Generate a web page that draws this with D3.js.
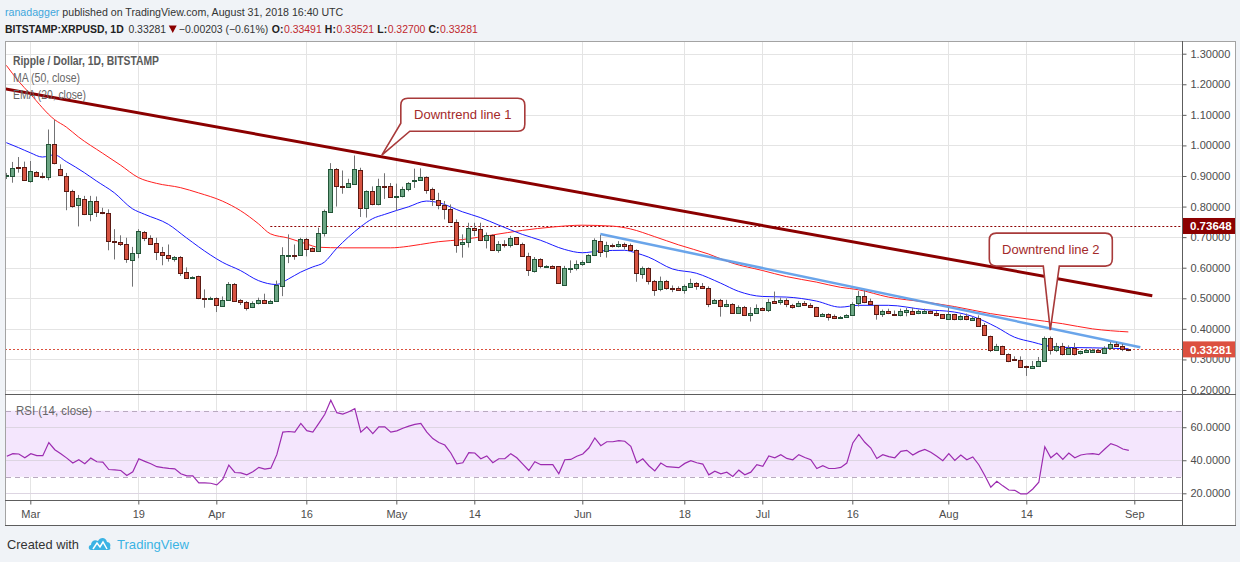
<!DOCTYPE html>
<html>
<head>
<meta charset="utf-8">
<script src="https://cdn.jsdelivr.net/npm/d3@7"></script>
<style>
html, body { margin: 0; padding: 0; background: #f0f3f7; overflow: hidden; }
text { font-family: "Liberation Sans", Arial, sans-serif; }
</style>
</head>
<body>
<script>
// daily candles, one value per day starting at firstDay
var firstDay = "2018-02-25";

var opens = [
  .900,.898,.929,.928,
  .883,.912,.899,.896,1.004,.923,.899,.852,.804,.824,.775,.817,.781,.778,.687,.683,.676,.624,.647,.718,.698,.680,.651,.641,.627,.634,.586,.567,.572,.500,.498,
  .502,.477,.495,.547,.493,.489,.471,.484,.495,.484,.491,.540,.641,.642,.642,.695,.665,.654,.713,.783,.924,.867,.864,.875,.920,.796,.850,.806,.868,.868,
  .833,.835,.857,.882,.886,.897,.856,.820,.804,.791,.750,.676,.684,.729,.726,.690,.706,.657,.676,.673,.699,.677,.637,.587,.627,.604,.607,.604,.544,.598,.597,
  .611,.618,.640,.687,.652,.673,.670,.677,.673,.657,.582,.600,.558,.530,.557,.535,.534,.528,.538,.551,.540,.534,.484,.493,.475,.482,.452,.473,.445,.453,
  .469,.462,.490,.486,.493,.479,.474,.485,.479,.471,.443,.449,.441,.436,.438,.446,.482,.506,.491,.477,.447,.457,.450,.445,.458,.460,.450,.455,.457,.452,.447,
  .430,.447,.430,.441,.430,.437,.411,.378,.333,.345,.319,.300,.297,.277,.273,.278,.294,.370,.330,.343,.317,.337,.319,.324,.326,.332,.323,.338,.351,.345,.33491
];
var highs = [
  .910,.946,.962,.947,
  .949,.916,.911,1.052,1.084,.938,.910,.855,.838,.835,.835,.833,.796,.791,.726,.706,.698,.668,.726,.720,.706,.698,.668,.676,.638,.638,.601,.572,.574,.529,.505,
  .503,.506,.553,.550,.497,.491,.490,.502,.515,.495,.558,.667,.709,.676,.698,.698,.667,.731,.790,.942,.926,.918,.891,.967,.927,.853,.866,.891,.909,.877,
  .875,.865,.880,.924,.925,.899,.862,.845,.818,.807,.758,.709,.747,.747,.747,.715,.709,.687,.690,.704,.700,.682,.649,.635,.631,.608,.608,.605,.606,.624,.624,
  .624,.644,.696,.707,.685,.679,.687,.682,.679,.660,.604,.601,.560,.571,.560,.542,.539,.545,.564,.553,.550,.539,.498,.498,.495,.484,.477,.475,.471,.480,
  .471,.498,.522,.502,.500,.482,.491,.491,.484,.472,.452,.451,.447,.442,.448,.487,.524,.526,.499,.478,.463,.466,.460,.466,.469,.469,.463,.466,.460,.458,.448,
  .469,.449,.447,.450,.439,.444,.419,.378,.351,.345,.320,.310,.310,.280,.295,.308,.375,.375,.354,.354,.346,.354,.329,.335,.335,.335,.343,.357,.357,.351,.33521
];
var lows = [
  .890,.878,.911,.884,
  .878,.897,.892,.886,.938,.900,.788,.796,.735,.772,.752,.766,.775,.657,.627,.671,.616,.538,.631,.687,.676,.625,.608,.620,.620,.573,.565,.565,.497,.469,.495,
  .455,.473,.493,.490,.478,.460,.468,.480,.482,.482,.491,.507,.615,.626,.640,.637,.652,.652,.702,.781,.800,.842,.862,.873,.766,.764,.804,.804,.825,.830,
  .787,.830,.850,.861,.884,.842,.802,.791,.758,.747,.649,.633,.666,.704,.687,.663,.655,.649,.666,.666,.674,.635,.573,.584,.598,.601,.600,.548,.543,.583,.591,
  .606,.617,.638,.635,.633,.666,.666,.660,.655,.554,.564,.545,.508,.523,.528,.520,.526,.515,.536,.528,.531,.471,.482,.440,.471,.449,.449,.444,.424,.449,
  .460,.455,.482,.479,.471,.466,.471,.476,.469,.440,.440,.427,.432,.433,.436,.444,.473,.484,.478,.430,.439,.448,.444,.441,.441,.448,.448,.453,.450,.441,.433,
  .429,.428,.428,.428,.428,.410,.378,.324,.331,.316,.291,.295,.272,.246,.272,.278,.294,.316,.324,.313,.317,.313,.316,.321,.324,.321,.322,.336,.341,.327,.32700
];
var closes = [
  .902,.925,.926,.885,
  .915,.899,.897,1.004,.941,.902,.850,.804,.827,.775,.817,.780,.778,.686,.685,.676,.627,.647,.719,.697,.680,.650,.641,.631,.634,.582,.568,.570,.499,.498,.501,
  .480,.495,.547,.491,.488,.471,.485,.495,.484,.491,.542,.640,.643,.638,.695,.662,.654,.713,.784,.924,.867,.864,.877,.924,.796,.850,.806,.866,.865,.833,
  .836,.858,.877,.886,.897,.856,.824,.804,.790,.750,.676,.684,.729,.724,.690,.706,.657,.676,.673,.696,.676,.637,.591,.627,.603,.607,.601,.549,.599,.600,.611,
  .619,.640,.690,.652,.673,.671,.677,.669,.657,.582,.600,.558,.530,.557,.533,.534,.528,.540,.551,.540,.534,.482,.493,.474,.482,.452,.473,.446,.452,.468,
  .462,.489,.485,.493,.479,.474,.485,.479,.471,.443,.449,.438,.436,.440,.446,.482,.506,.487,.480,.447,.457,.450,.446,.458,.463,.450,.457,.460,.452,.444,.435,
  .447,.430,.441,.430,.437,.411,.379,.333,.345,.319,.297,.297,.275,.275,.280,.294,.370,.330,.343,.317,.337,.319,.327,.332,.332,.324,.338,.351,.344,.334,.33281
];
var rsi = [
  42.4,44.0,43.8,41.5,
  44.0,42.8,42.8,50.7,46.4,44.0,41.3,38.3,40.3,37.9,41.3,39.1,38.9,34.4,34.2,33.8,30.8,33.0,40.9,39.3,37.9,36.1,35.5,35.1,34.8,31.8,30.6,30.6,26.3,26.3,26.1,
  25.1,28.5,37.1,32.6,32.4,31.2,33.0,35.7,34.6,35.2,43.4,57.0,57.4,57.0,62.3,57.9,57.0,62.3,67.8,76.3,68.8,68.0,69.4,71.2,57.0,60.2,56.1,60.2,60.2,57.0,
  57.8,59.4,60.7,61.7,62.3,57.0,53.1,50.7,49.2,44.4,37.9,38.5,44.6,44.4,40.9,42.6,38.5,40.9,40.9,44.0,41.5,37.7,33.8,39.1,37.3,37.3,37.3,31.8,40.3,40.5,42.4,
  43.8,47.4,53.5,48.8,51.2,51.2,51.9,51.5,48.4,38.5,40.9,36.7,33.6,38.3,36.1,35.9,35.5,38.1,39.7,38.5,37.7,31.2,33.4,31.8,32.8,30.2,34.0,31.2,32.8,37.3,
  36.3,42.6,41.5,43.4,41.1,40.3,43.4,41.7,40.3,35.0,36.7,35.0,35.0,35.7,38.3,50.5,55.6,50.9,47.4,41.1,43.4,42.2,41.5,45.4,46.0,43.2,45.2,46.6,44.8,42.4,39.7,
  44.0,39.9,43.2,40.3,42.0,37.3,30.8,23.7,27.3,24.5,22.0,21.8,19.6,19.6,22.6,26.7,48.2,41.5,44.4,40.5,44.4,41.5,43.2,43.8,44.0,43.4,46.8,50.1,48.8,46.8,46.0
];

// indicator lines
var ma50 = [
  ["2018-02-25",1.262],["2018-02-27",1.211],["2018-03-01",1.168],["2018-03-05",1.085],["2018-03-07",1.060],["2018-03-09",1.028],
  ["2018-03-13",0.975],["2018-03-16",0.936],["2018-03-19",0.895],["2018-03-22",0.876],["2018-03-26",0.862],["2018-03-29",0.845],
  ["2018-04-02",0.818],["2018-04-05",0.787],["2018-04-08",0.744],["2018-04-10",0.711],["2018-04-13",0.697],["2018-04-16",0.678],
  ["2018-04-18",0.667],["2018-04-22",0.665],["2018-04-30",0.665],["2018-05-03",0.670],["2018-05-05",0.676],["2018-05-08",0.685],
  ["2018-05-12",0.692],["2018-05-17",0.707],["2018-05-22",0.722],["2018-05-27",0.733],["2018-06-01",0.739],["2018-06-06",0.736],
  ["2018-06-09",0.727],["2018-06-13",0.702],["2018-06-17",0.675],["2018-06-22",0.645],["2018-06-26",0.615],["2018-07-01",0.591],
  ["2018-07-05",0.571],["2018-07-10",0.553],["2018-07-14",0.536],["2018-07-17",0.528],["2018-07-22",0.504],["2018-07-28",0.488],
  ["2018-08-02",0.473],["2018-08-08",0.450],["2018-08-14",0.433],["2018-08-20",0.417],["2018-08-25",0.400],["2018-08-31",0.390]
];
var ema20 = [
  ["2018-02-25",1.009],["2018-02-27",0.993],["2018-03-01",0.976],["2018-03-03",0.962],["2018-03-05",0.969],["2018-03-07",0.947],
  ["2018-03-10",0.911],["2018-03-12",0.884],["2018-03-15",0.845],["2018-03-18",0.793],["2018-03-20",0.775],["2018-03-24",0.742],
  ["2018-03-27",0.698],["2018-03-31",0.642],["2018-04-02",0.618],["2018-04-05",0.591],["2018-04-08",0.558],["2018-04-11",0.545],
  ["2018-04-13",0.563],["2018-04-15",0.585],["2018-04-17",0.602],["2018-04-19",0.618],["2018-04-21",0.662],["2018-04-23",0.700],
  ["2018-04-25",0.733],["2018-04-27",0.760],["2018-04-29",0.774],["2018-05-01",0.787],["2018-05-03",0.799],["2018-05-06",0.818],
  ["2018-05-08",0.813],["2018-05-12",0.783],["2018-05-15",0.764],["2018-05-18",0.740],["2018-05-22",0.709],["2018-05-25",0.690],
  ["2018-05-29",0.660],["2018-06-01",0.649],["2018-06-04",0.655],["2018-06-08",0.657],["2018-06-10",0.648],["2018-06-12",0.635],
  ["2018-06-16",0.596],["2018-06-20",0.582],["2018-06-24",0.550],["2018-06-27",0.523],["2018-07-01",0.506],["2018-07-05",0.504],
  ["2018-07-10",0.491],["2018-07-14",0.471],["2018-07-17",0.477],["2018-07-22",0.477],["2018-07-28",0.463],["2018-08-02",0.455],
  ["2018-08-05",0.441],["2018-08-09",0.406],["2018-08-12",0.373],["2018-08-15",0.357],["2018-08-19",0.340],["2018-08-25",0.338],
  ["2018-08-31",0.335]
];

// drawings
var trend1 = [["2018-02-24",1.188],["2018-09-04",0.508]];
var trend2 = [["2018-06-04",0.710],["2018-09-02",0.340]];
var levelPrice = 0.73648, levelFrom = "2018-04-10";
var lastPrice = 0.33281;
var callout1 = {text: "Downtrend line 1", date: "2018-04-28", hour: 14, price: 0.968};
var callout2 = {text: "Downtrend line 2", date: "2018-08-18", hour: 0, price: 0.396};

var priceTicks = [0.2,0.3,0.4,0.5,0.6,0.7,0.8,0.9,1.0,1.1,1.2,1.3];
var rsiTicks = [20,40,60];
var rsiBand = [30,70];
var timeTicks = ["2018-03-01","2018-03-19","2018-04-01","2018-04-16","2018-05-01","2018-05-14","2018-06-01",
                 "2018-06-18","2018-07-01","2018-07-16","2018-08-01","2018-08-14","2018-09-01"];
var timeLabels = ["Mar","19","Apr","16","May","14","Jun","18","Jul","16","Aug","14","Sep"];

var W = 1240, H = 562;
var left = 5, axisX = 1182, right = 1236;
var paneTop = 41, paneBot = 394, rsiTop = 395, rsiBot = 500, frameBot = 525;
var DAY = 864e5;

var parse = d3.utcParse("%Y-%m-%d");
var mar1 = parse("2018-03-01");
var day0 = parse(firstDay);

var candles = closes.map(function (c, i) {
    return {date: d3.utcDay.offset(day0, i), o: opens[i], h: highs[i], l: lows[i], c: c, r: rsi[i]};
});

var x = d3.scaleUtc()
    .domain([new Date(+mar1 - 4.22 * DAY), new Date(+mar1 + 191.95 * DAY)])
    .range([left, axisX]);
var y = d3.scaleLinear().domain([0.2, 1.3]).range([390, 53.7]);
var yR = d3.scaleLinear().domain([20, 70]).range([493.3, 410.7]);

var svg = d3.select("body").append("svg")
    .attr("width", W)
    .attr("height", H)
    .attr("viewBox", "0 0 " + W + " " + H);

svg.append("rect").attr("width", W).attr("height", H).attr("fill", "#f0f3f7");
svg.append("rect")
    .attr("x", left + 0.5).attr("y", paneTop + 0.5)
    .attr("width", right - left - 1).attr("height", frameBot - paneTop)
    .attr("fill", "#fff").attr("stroke", "#a3a3a3");

var defs = svg.append("defs");
defs.append("clipPath").attr("id", "clipPrice").append("rect")
    .attr("x", left + 1).attr("y", paneTop + 1).attr("width", axisX - left - 1).attr("height", paneBot - paneTop - 1);
defs.append("clipPath").attr("id", "clipRsi").append("rect")
    .attr("x", left + 1).attr("y", rsiTop).attr("width", axisX - left - 1).attr("height", rsiBot - rsiTop);

// grid
var gridColor = "#e4e4e4";
var grid = svg.append("g");
grid.selectAll(".vg").data(timeTicks).enter().append("line")
    .attr("x1", function (d) { return Math.round(x(parse(d))) + 0.5; })
    .attr("x2", function (d) { return Math.round(x(parse(d))) + 0.5; })
    .attr("y1", paneTop + 1).attr("y2", rsiBot)
    .attr("stroke", gridColor);
grid.selectAll(".hg").data(priceTicks).enter().append("line")
    .attr("x1", left + 1).attr("x2", axisX)
    .attr("y1", function (d) { return Math.round(y(d)) + 0.5; })
    .attr("y2", function (d) { return Math.round(y(d)) + 0.5; })
    .attr("stroke", gridColor);

// RSI pane background band
var rsiG = svg.append("g");
rsiG.append("rect")
    .attr("x", left + 1).attr("width", axisX - left - 1)
    .attr("y", yR(rsiBand[1])).attr("height", yR(rsiBand[0]) - yR(rsiBand[1]))
    .attr("fill", "#f4e6fd");
rsiG.selectAll(".rg").data(rsiTicks).enter().append("line")
    .attr("x1", left + 1).attr("x2", axisX)
    .attr("y1", function (d) { return Math.round(yR(d)) + 0.5; })
    .attr("y2", function (d) { return Math.round(yR(d)) + 0.5; })
    .attr("stroke", "#ddd5e2");
rsiG.selectAll(".rb").data(rsiBand).enter().append("line")
    .attr("x1", left + 1).attr("x2", axisX)
    .attr("y1", function (d) { return Math.round(yR(d)) + 0.5; })
    .attr("y2", function (d) { return Math.round(yR(d)) + 0.5; })
    .attr("stroke", "#b9a9c0").attr("stroke-dasharray", "5,4");
rsiG.append("path")
    .datum(candles)
    .attr("clip-path", "url(#clipRsi)")
    .attr("fill", "none").attr("stroke", "#9c2bb0").attr("stroke-width", 1.2)
    .attr("d", d3.line().x(function (d) { return x(d.date) + 0.5; }).y(function (d) { return yR(d.r); }));

// price pane
var pane = svg.append("g").attr("clip-path", "url(#clipPrice)");

pane.append("line")
    .attr("x1", x(parse(levelFrom))).attr("x2", axisX)
    .attr("y1", Math.round(y(levelPrice)) + 0.5).attr("y2", Math.round(y(levelPrice)) + 0.5)
    .attr("stroke", "#8b0000").attr("stroke-dasharray", "2,2");
pane.append("line")
    .attr("x1", left).attr("x2", axisX)
    .attr("y1", Math.round(y(lastPrice)) + 0.5).attr("y2", Math.round(y(lastPrice)) + 0.5)
    .attr("stroke", "#d9503f").attr("stroke-dasharray", "2,2");

var lineFn = d3.line()
    .x(function (d) { return x(parse(d[0])); })
    .y(function (d) { return y(d[1]); })
    .curve(d3.curveMonotoneX);
pane.append("path").datum(ma50).attr("d", lineFn)
    .attr("fill", "none").attr("stroke", "#ff2020").attr("stroke-width", 1);
pane.append("path").datum(ema20).attr("d", lineFn)
    .attr("fill", "none").attr("stroke", "#1a1aff").attr("stroke-width", 1);

var straight = d3.line().x(function (d) { return x(parse(d[0])); }).y(function (d) { return y(d[1]); });
pane.append("path").datum(trend2).attr("d", straight)
    .attr("fill", "none").attr("stroke", "#5a9be8").attr("stroke-width", 2.5).attr("stroke-opacity", 0.9);

// candles
var cg = pane.append("g");
var cand = cg.selectAll("g.c").data(candles).enter().append("g");
cand.append("line")
    .attr("x1", function (d) { return Math.floor(x(d.date)) + 0.5; })
    .attr("x2", function (d) { return Math.floor(x(d.date)) + 0.5; })
    .attr("y1", function (d) { return y(d.h); })
    .attr("y2", function (d) { return y(d.l); })
    .attr("stroke", "#737375");
cand.append("rect")
    .attr("x", function (d) { return Math.floor(x(d.date)) - 1.5; })
    .attr("width", 4)
    .attr("y", function (d) { return Math.round(y(Math.max(d.o, d.c))) + 0.5; })
    .attr("height", function (d) { return Math.max(1, Math.round(Math.abs(y(d.o) - y(d.c)))); })
    .attr("fill", function (d) { return d.c >= d.o ? "#6ba583" : "#d75442"; })
    .attr("stroke", function (d) { return d.c >= d.o ? "#225437" : "#5b1a13"; })
    .attr("stroke-width", 1);

pane.append("path").datum(trend1).attr("d", straight)
    .attr("fill", "none").attr("stroke", "#8b0000").attr("stroke-width", 3);

// callouts
function callout(c, bx, by, bw, bh, pointer) {
    var tx = x(new Date(+parse(c.date) + c.hour * 3600e3)), ty = y(c.price);
    var x0 = tx + bx, y0 = ty + by, x1 = x0 + bw, y1 = y0 + bh, r = 7;
    var p = d3.path();
    p.moveTo(x0 + r, y0);
    p.lineTo(x1 - r, y0);
    p.quadraticCurveTo(x1, y0, x1, y0 + r);
    p.lineTo(x1, y1 - r);
    p.quadraticCurveTo(x1, y1, x1 - r, y1);
    if (pointer === "bottom") {
        p.lineTo(tx + 9, y1);
        p.lineTo(tx, ty);
        p.lineTo(tx - 7, y1);
        p.lineTo(x0 + r, y1);
        p.quadraticCurveTo(x0, y1, x0, y1 - r);
    } else {
        p.lineTo(x0 + 9, y1);
        p.lineTo(tx, ty);
        p.lineTo(x0, y1 - 8);
    }
    p.lineTo(x0, y0 + r);
    p.quadraticCurveTo(x0, y0, x0 + r, y0);
    p.closePath();
    var g = svg.append("g");
    g.append("path").attr("d", p.toString())
        .attr("fill", "#fff").attr("stroke", "#a83a3a").attr("stroke-width", 1.6);
    g.append("text")
        .attr("x", (x0 + x1) / 2).attr("y", y0 + bh / 2 + 4.5)
        .attr("text-anchor", "middle")
        .attr("font-size", 13).attr("fill", "#a32a2a")
        .text(c.text);
}
callout(callout1, 19, -57, 124, 33, "left");
callout(callout2, -61, -97, 123, 33, "bottom");

// frame lines
svg.append("line").attr("x1", left).attr("x2", right).attr("y1", paneBot + 0.5).attr("y2", paneBot + 0.5).attr("stroke", "#5d5d5d");
svg.append("line").attr("x1", left).attr("x2", axisX).attr("y1", rsiBot + 0.5).attr("y2", rsiBot + 0.5).attr("stroke", "#5d5d5d");
svg.append("line").attr("x1", left).attr("x2", right).attr("y1", frameBot + 0.5).attr("y2", frameBot + 0.5).attr("stroke", "#5d5d5d");
svg.append("line").attr("x1", axisX + 0.5).attr("x2", axisX + 0.5).attr("y1", paneTop).attr("y2", frameBot).attr("stroke", "#5d5d5d");

// axes
function styleAxis(g) {
    g.select(".domain").remove();
    g.selectAll(".tick line").attr("stroke", "#5d5d5d");
    g.selectAll(".tick text").attr("fill", "#4d4d4d").attr("font-size", 11)
        .attr("font-family", "'Liberation Sans', Arial, sans-serif");
}
svg.append("g").attr("transform", "translate(" + (axisX + 0.5) + ",0)")
    .call(d3.axisRight(y).tickValues(priceTicks).tickFormat(d3.format(".5f")).tickSize(4).tickPadding(4))
    .call(styleAxis);
svg.append("g").attr("transform", "translate(" + (axisX + 0.5) + ",0)")
    .call(d3.axisRight(yR).tickValues(rsiTicks).tickFormat(d3.format(".4f")).tickSize(4).tickPadding(4))
    .call(styleAxis);
svg.append("g").attr("transform", "translate(0," + (rsiBot + 0.5) + ")")
    .call(d3.axisBottom(x).tickValues(timeTicks.map(parse))
        .tickFormat(function (d, i) { return timeLabels[i]; }).tickSize(4).tickPadding(6))
    .call(styleAxis);

// last value labels on the price scale
[[levelPrice, "#8b0000"], [lastPrice, "#dc5040"]].forEach(function (b) {
    var cy = y(b[0]);
    svg.append("rect").attr("x", axisX + 1).attr("y", cy - 8).attr("width", 52).attr("height", 16).attr("fill", b[1]);
    svg.append("text").attr("x", axisX + 8).attr("y", cy + 4.2)
        .attr("font-size", 11.5).attr("font-weight", "bold").attr("fill", "#fff")
        .text(d3.format(".5f")(b[0]));
});

// texts
function label(t, px, py, opts) {
    var e = svg.append("text").attr("x", px).attr("y", py).text(t)
        .attr("font-size", opts.size || 12.5)
        .attr("fill", opts.fill || "#555");
    if (opts.bold) e.attr("font-weight", "bold");
    if (opts.len) e.attr("textLength", opts.len).attr("lengthAdjust", "spacingAndGlyphs");
    return e;
}

// lay pieces out one after another, font size chosen so the line fills `width`
function flowLine(x0, py, width, parts) {
    var base = 12;
    var els = parts.map(function (p) {
        if (p.shape) return null;
        var e = svg.append("text").attr("y", py).attr("font-size", base)
            .attr("fill", p.fill || "#333").text(p.t);
        if (p.bold) e.attr("font-weight", "bold");
        return e;
    });
    function total(size) {
        var s = 0;
        parts.forEach(function (p, i) {
            s += p.shape ? p.w : els[i].node().getComputedTextLength();
            s += (p.gap || 0) * size;
        });
        return s;
    }
    var size = base * width / total(base);
    size = Math.min(size, 13);
    els.forEach(function (e) { if (e) e.attr("font-size", size); });
    var cx = x0;
    parts.forEach(function (p, i) {
        if (p.shape) {
            svg.append("path").attr("fill", p.fill)
                .attr("d", "M" + cx + "," + (py - 7.5) + " l" + p.w + ",0 l" + (-p.w / 2) + ",7.5 Z");
            cx += p.w;
        } else {
            els[i].attr("x", cx);
            cx += els[i].node().getComputedTextLength();
        }
        cx += (p.gap || 0) * size;
    });
}

label("Ripple / Dollar, 1D, BITSTAMP", 13, 65, {bold: true, len: 146, fill: "#5a5a5a"});
label("MA (50, close)", 13, 82, {len: 67, fill: "#666"});
label("EMA (20, close)", 13, 99, {len: 73, fill: "#666"});
label("RSI (14, close)", 16, 415, {len: 76, fill: "#666"});

// header
flowLine(5, 16, 339, [
    {t: "ranadagger", fill: "#3ea6dc", gap: 0.28},
    {t: "published on TradingView.com, August 31, 2018 16:40 UTC", fill: "#333"}
]);
var hdr = [
    {t: "BITSTAMP:XRPUSD, 1D", bold: true, fill: "#222", gap: 0.45},
    {t: d3.format(".5f")(lastPrice), gap: 0.25},
    {shape: true, w: 8, fill: "#8b0000", gap: 0.2},
    {t: "\u22120.00203 (\u22120.61%)", gap: 0.35}
];
var ohlcLast = [["O:", opens[opens.length - 1]], ["H:", highs[highs.length - 1]],
                ["L:", lows[lows.length - 1]], ["C:", closes[closes.length - 1]]];
ohlcLast.forEach(function (o, i) {
    hdr.push({t: o[0], bold: true, fill: "#222", gap: 0.05});
    hdr.push({t: d3.format(".5f")(o[1]), fill: "#c0272d", gap: i < 3 ? 0.3 : 0});
});
flowLine(5, 33, 472, hdr);

// footer
label("Created with", 7, 549, {len: 72, fill: "#333", size: 13});
label("TradingView", 117, 549, {len: 72, fill: "#3bb3e4", size: 13});
var logo = svg.append("g").attr("transform", "translate(88,536)");
logo.append("path")
    .attr("d", "M3,14 C0,14 0,9 3,9 C3,5 7,3 10,5 C12,1 18,1 19,6 C22,6 23,9 22,11 C23,13 22,14 20,14 Z")
    .attr("fill", "#3bb3e4");
logo.append("path").attr("d", "M5,13 L9,7 L12,11 L15,6 L19,13")
    .attr("fill", "none").attr("stroke", "#fff").attr("stroke-width", 1.5);
</script>
</body>
</html>
